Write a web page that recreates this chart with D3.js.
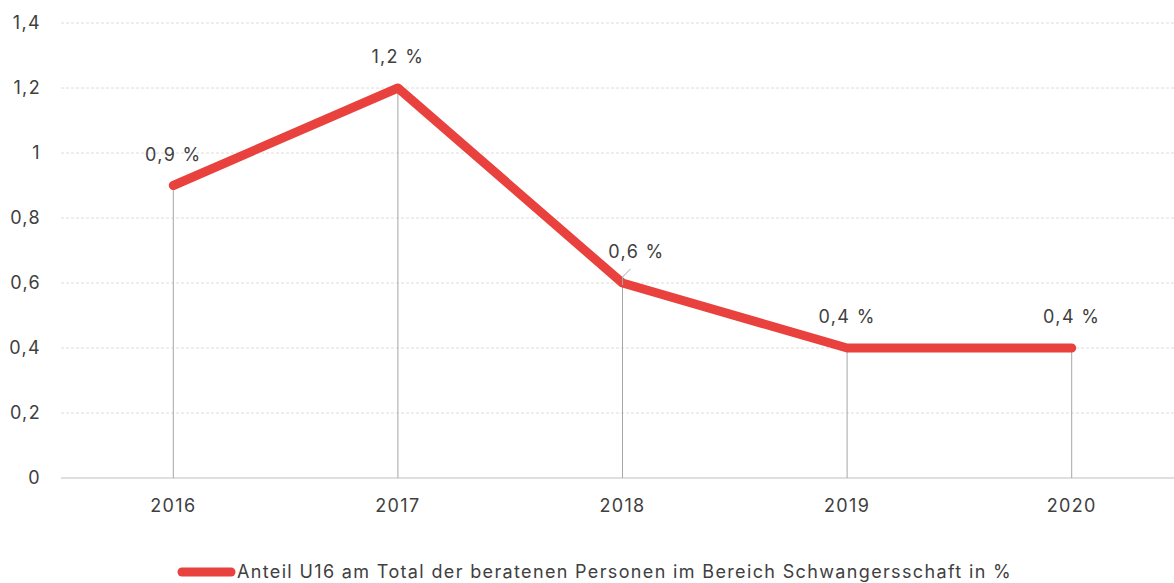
<!DOCTYPE html>
<html>
<head>
<meta charset="utf-8">
<script src="https://cdn.jsdelivr.net/npm/d3@7"></script>
<style>
  body { margin: 0; background: #fff; }
  svg { display: block; font-family: "Inter", "Roboto", sans-serif; letter-spacing: 1.35px; }
</style>
</head>
<body>
<svg width="1174" height="583"></svg>
<script>
var years = ["2016", "2017", "2018", "2019", "2020"];
var shares = [0.9, 1.2, 0.6, 0.4, 0.4];
var labels = ["0,9 %", "1,2 %", "0,6 %", "0,4 %", "0,4 %"];
var yTicks = [0, 0.2, 0.4, 0.6, 0.8, 1, 1.2, 1.4];
var seriesName = "Anteil U16 am Total der beratenen Personen im Bereich Schwangersschaft in %";

var svg = d3.select("svg"),
    red = "#e8413e",
    textCol = "#404040",
    fs = 18;

var x = d3.scaleBand().domain(years).range([61, 1184]).padding(0);
var y = d3.scaleLinear().domain([0, 1.4]).range([478, 23]);
var fmt = function (v) { return String(v).replace(".", ","); };

// gridlines
svg.append("g").selectAll("line")
    .data(yTicks.filter(function (d) { return d > 0; }))
    .enter().append("line")
    .attr("x1", 61).attr("x2", 1174)
    .attr("y1", function (d) { return y(d); })
    .attr("y2", function (d) { return y(d); })
    .attr("stroke", "#dcdcdc")
    .attr("stroke-dasharray", "3,2");

// y axis labels
svg.append("g").selectAll("text")
    .data(yTicks)
    .enter().append("text")
    .attr("x", 41)
    .attr("y", function (d) { return y(d); })
    .attr("dy", "0.35em")
    .attr("text-anchor", "end")
    .attr("font-size", fs)
    .attr("fill", textCol)
    .text(fmt);

// baseline
svg.append("line")
    .attr("x1", 61).attr("x2", 1174)
    .attr("y1", y(0)).attr("y2", y(0))
    .attr("stroke", "#d4d4d4")
    .attr("stroke-width", 1.5);

// x labels
svg.append("g").selectAll("text")
    .data(years)
    .enter().append("text")
    .attr("x", function (d) { return x(d) + x.bandwidth() / 2; })
    .attr("y", 512)
    .attr("text-anchor", "middle")
    .attr("font-size", fs)
    .attr("fill", textCol)
    .text(function (d) { return d; });

var cx = function (i) { return x(years[i]) + x.bandwidth() / 2; };

// drop lines
svg.append("g").selectAll("line")
    .data(shares)
    .enter().append("line")
    .attr("x1", function (d, i) { return cx(i); })
    .attr("x2", function (d, i) { return cx(i); })
    .attr("y1", function (d) { return y(d); })
    .attr("y2", y(0))
    .attr("stroke", "#a6a6a6")
    .attr("stroke-width", 1);

// series line
var line = d3.line()
    .x(function (d, i) { return cx(i); })
    .y(function (d) { return y(d); });

svg.append("path")
    .datum(shares)
    .attr("d", line)
    .attr("fill", "none")
    .attr("stroke", red)
    .attr("stroke-width", 9)
    .attr("stroke-linecap", "round")
    .attr("stroke-linejoin", "round");

// leader line for 2018 label
svg.append("path")
    .attr("d", "M" + cx(2) + "," + (y(shares[2]) + 2) + "l0,-8 l8,-8")
    .attr("fill", "none")
    .attr("stroke", "#a6a6a6")
    .attr("stroke-width", 1);

// data labels
svg.append("g").selectAll("text")
    .data(labels)
    .enter().append("text")
    .attr("x", function (d, i) { return cx(i) + (i === 2 ? 14 : 0); })
    .attr("y", function (d, i) { return y(shares[i]) - 25; })
    .attr("text-anchor", "middle")
    .attr("font-size", fs)
    .attr("fill", textCol)
    .text(function (d) { return d; });

// legend
svg.append("line")
    .attr("x1", 182).attr("x2", 231)
    .attr("y1", 572).attr("y2", 572)
    .attr("stroke", red)
    .attr("stroke-width", 9)
    .attr("stroke-linecap", "round");

svg.append("text")
    .attr("x", 237)
    .attr("y", 578)
    .attr("font-size", fs)
    .attr("fill", textCol)
    .text(seriesName);
</script>
</body>
</html>
